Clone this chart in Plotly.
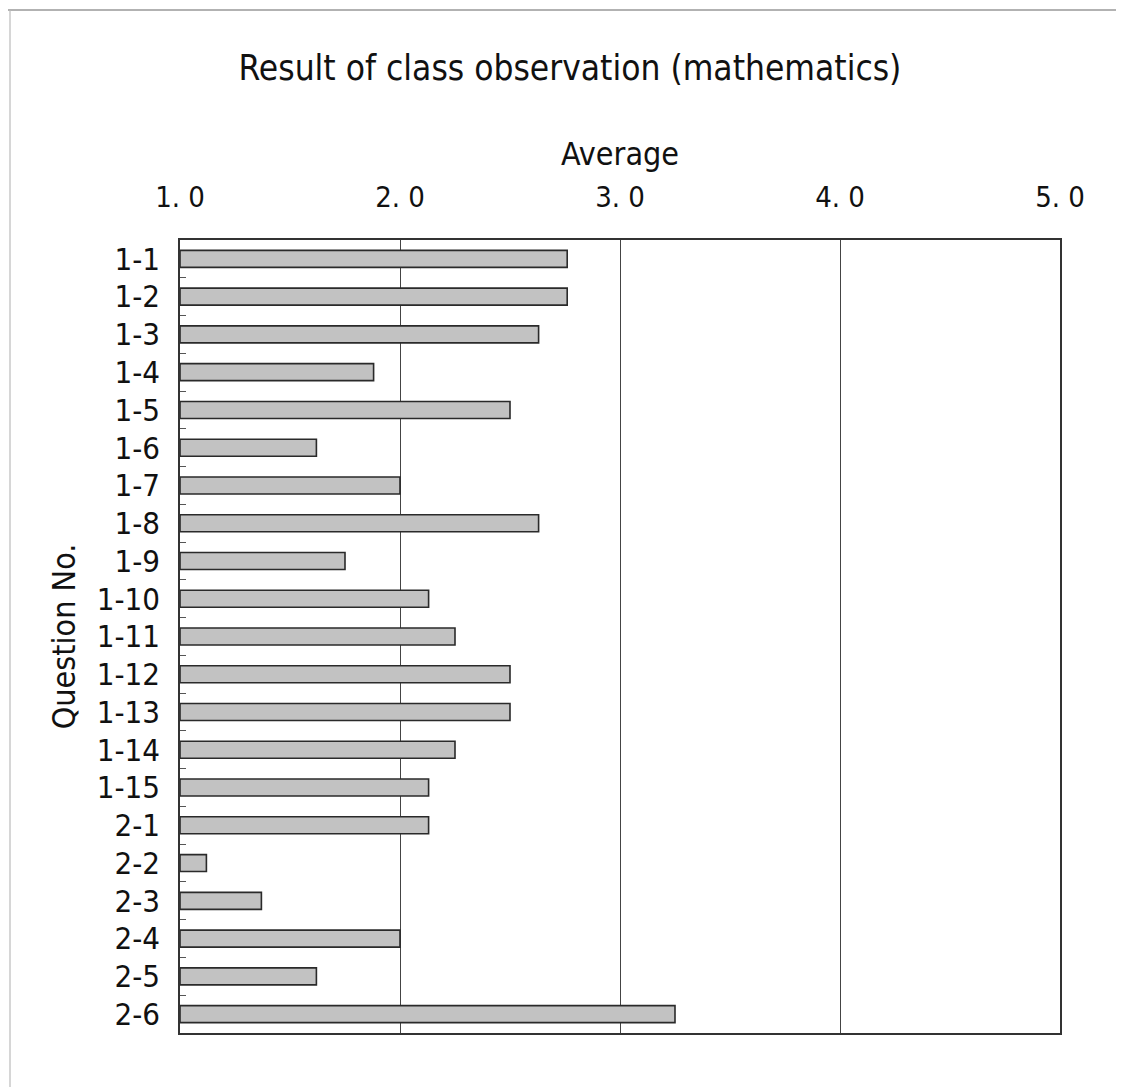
import plotly.graph_objects as go

questions = ["1-1", "1-2", "1-3", "1-4", "1-5", "1-6", "1-7", "1-8", "1-9", "1-10",
             "1-11", "1-12", "1-13", "1-14", "1-15", "2-1", "2-2", "2-3", "2-4", "2-5", "2-6"]
averages = [2.76, 2.76, 2.63, 1.88, 2.50, 1.62, 2.00, 2.63, 1.75, 2.13,
            2.25, 2.50, 2.50, 2.25, 2.13, 2.13, 1.12, 1.37, 2.00, 1.62, 3.25]
x_ticks = [1, 2, 3, 4, 5]
x_tick_labels = ["1. 0", "2. 0", "3. 0", "4. 0", "5. 0"]

FONT = "DejaVu Sans Condensed, DejaVu Sans, sans-serif"

L, R, T, B = 172, 72, 232, 62

fig = go.Figure()
fig.add_trace(go.Bar(
    y=questions,
    x=[v - 1 for v in averages],
    base=1,
    orientation="h",
    marker=dict(color="#c2c2c2", line=dict(color="#2a2a2a", width=1.6)),
    width=0.45,
    hoverinfo="x+y",
))

fig.update_layout(
    width=1124, height=1087,
    margin=dict(l=L, r=R, t=T, b=B),
    paper_bgcolor="white", plot_bgcolor="white",
    showlegend=False,
    title=dict(text="Result of class observation (mathematics)",
               x=0.5, xanchor="center", y=1 - 60 / 1087, yanchor="middle",
               font=dict(family=FONT, size=35, color="#111")),
    font=dict(family=FONT, color="#111"),
)

fig.update_xaxes(
    side="top", range=[1, 5], tickvals=x_ticks, ticktext=x_tick_labels,
    tickfont=dict(size=29, color="#111"), ticklabelstandoff=20,
    showgrid=True, gridcolor="#444", gridwidth=1,
    showline=True, linecolor="#333", linewidth=1.5, mirror=True,
    ticks="", zeroline=False,
    title=dict(text="Average", font=dict(size=32, color="#111"), standoff=4),
)
fig.update_yaxes(
    categoryorder="array", categoryarray=questions, autorange="reversed",
    tickmode="linear", tick0=0, dtick=1,
    tickfont=dict(size=31, color="#111"), ticklabelstandoff=12,
    showline=True, linecolor="#333", linewidth=1.5, mirror=True,
    ticks="inside", tickson="boundaries", ticklen=6, tickcolor="#555",
    showgrid=False,
    title=dict(text="Question No.", font=dict(size=32, color="#111"), standoff=12),
)

# light outer frame of the original scan
px_w = 1124.0 - L - R
px_h = 1087.0 - T - B
fig.add_shape(type="line", xref="paper", yref="paper",
              x0=(0 - L) / px_w, x1=(1124 - L) / px_w,
              y0=1 + (T - 2) / px_h, y1=1 + (T - 2) / px_h,
              line=dict(color="#999", width=1.5))
fig.add_shape(type="line", xref="paper", yref="paper",
              x0=(2 - L) / px_w, x1=(2 - L) / px_w,
              y0=1 + (T - 2) / px_h, y1=-(B - 2) / px_h,
              line=dict(color="#bbb", width=1.2))

fig.write_html("out.html")
